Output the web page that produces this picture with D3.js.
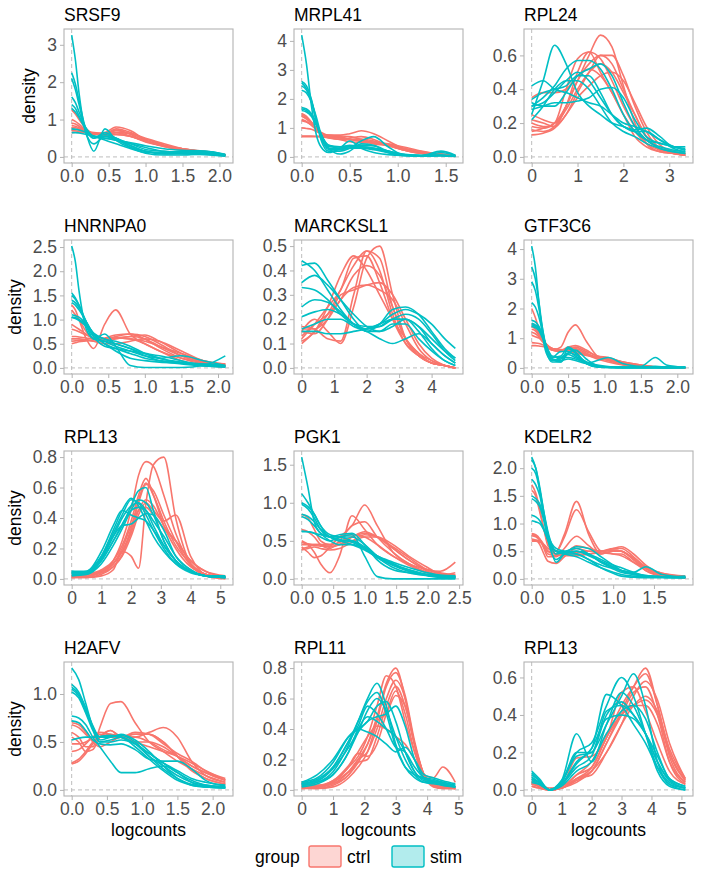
<!DOCTYPE html>
<html>
<head>
<meta charset="utf-8">
<script src="https://cdn.jsdelivr.net/npm/d3@7"></script>
<style>
  body { margin: 0; background: #fff; }
  text { font-family: "Liberation Sans", Arial, Helvetica, sans-serif; }
</style>
</head>
<body>
<svg id="chart" width="705" height="874"></svg>
<script>
// gene names, one panel each (row by row)
const genes = ["SRSF9", "MRPL41", "RPL24", "HNRNPA0", "MARCKSL1", "GTF3C6",
               "RPL13", "PGK1", "KDELR2", "H2AFV", "RPL11", "RPL13"];

// tick labels per panel
const xTicks = [
  [0, 0.5, 1, 1.5, 2], [0, 0.5, 1, 1.5], [0, 1, 2, 3],
  [0, 0.5, 1, 1.5, 2], [0, 1, 2, 3, 4], [0, 0.5, 1, 1.5, 2],
  [0, 1, 2, 3, 4, 5], [0, 0.5, 1, 1.5, 2, 2.5], [0, 0.5, 1, 1.5],
  [0, 0.5, 1, 1.5, 2], [0, 1, 2, 3, 4, 5], [0, 1, 2, 3, 4, 5]
];
const yTicks = [
  [0, 1, 2, 3], [0, 1, 2, 3, 4], [0, 0.2, 0.4, 0.6],
  [0, 0.5, 1, 1.5, 2, 2.5], [0, 0.1, 0.2, 0.3, 0.4, 0.5], [0, 1, 2, 3, 4],
  [0, 0.2, 0.4, 0.6, 0.8], [0, 0.5, 1, 1.5], [0, 0.5, 1, 1.5, 2],
  [0, 0.5, 1], [0, 0.2, 0.4, 0.6, 0.8], [0, 0.2, 0.4, 0.6]
];

// density curves: x grid per panel, one y row per sample
const xsSRSF9 = [0, 0.05, 0.1, 0.2, 0.3, 0.45, 0.6, 0.8, 1.0, 1.25, 1.5, 1.8, 2.08];
const ctrlSRSF9 = [
  [1.25, 1.15, 1.0, 0.75, 0.62, 0.6, 0.65, 0.55, 0.4, 0.3, 0.22, 0.12, 0.05],
  [1.0, 0.95, 0.88, 0.7, 0.6, 0.62, 0.72, 0.6, 0.42, 0.28, 0.18, 0.1, 0.04],
  [0.9, 0.88, 0.82, 0.7, 0.62, 0.65, 0.8, 0.7, 0.45, 0.28, 0.2, 0.12, 0.05],
  [0.85, 0.82, 0.78, 0.68, 0.6, 0.62, 0.75, 0.65, 0.45, 0.3, 0.22, 0.15, 0.06],
  [0.8, 0.78, 0.75, 0.68, 0.62, 0.6, 0.7, 0.62, 0.48, 0.32, 0.2, 0.1, 0.04],
  [0.75, 0.74, 0.72, 0.68, 0.65, 0.62, 0.6, 0.55, 0.42, 0.3, 0.22, 0.14, 0.06],
  [0.7, 0.7, 0.68, 0.66, 0.64, 0.6, 0.65, 0.62, 0.5, 0.35, 0.22, 0.1, 0.03],
  [0.65, 0.66, 0.66, 0.65, 0.62, 0.58, 0.6, 0.55, 0.42, 0.3, 0.2, 0.12, 0.05]
];
const stimSRSF9 = [
  [3.26, 2.6, 1.7, 0.6, 0.35, 0.55, 0.45, 0.3, 0.15, 0.1, 0.1, 0.08, 0.03],
  [2.25, 1.95, 1.5, 0.7, 0.5, 0.65, 0.5, 0.35, 0.2, 0.15, 0.12, 0.12, 0.05],
  [2.1, 1.8, 1.4, 0.6, 0.15, 0.75, 0.45, 0.25, 0.15, 0.1, 0.08, 0.06, 0.02],
  [1.6, 1.45, 1.2, 0.75, 0.55, 0.55, 0.5, 0.3, 0.15, 0.08, 0.1, 0.15, 0.06],
  [1.4, 1.3, 1.1, 0.75, 0.55, 0.5, 0.45, 0.35, 0.25, 0.15, 0.12, 0.1, 0.04],
  [1.3, 1.2, 1.05, 0.7, 0.5, 0.6, 0.5, 0.25, 0.1, 0.05, 0.05, 0.08, 0.03],
  [0.75, 0.74, 0.72, 0.65, 0.55, 0.5, 0.45, 0.38, 0.3, 0.22, 0.18, 0.16, 0.07],
  [0.65, 0.65, 0.64, 0.6, 0.55, 0.45, 0.35, 0.22, 0.12, 0.12, 0.15, 0.12, 0.05]
];

const xsMRPL41 = [0, 0.05, 0.1, 0.15, 0.2, 0.28, 0.4, 0.5, 0.62, 0.75, 0.9, 1.05, 1.25, 1.45, 1.6];
const ctrlMRPL41 = [
  [1.5, 1.4, 1.2, 1.0, 0.85, 0.75, 0.75, 0.8, 0.9, 0.8, 0.55, 0.3, 0.15, 0.08, 0.04],
  [1.45, 1.35, 1.2, 1.0, 0.8, 0.65, 0.6, 0.65, 0.7, 0.6, 0.4, 0.25, 0.12, 0.06, 0.03],
  [1.4, 1.3, 1.15, 0.95, 0.8, 0.7, 0.72, 0.7, 0.6, 0.5, 0.4, 0.3, 0.15, 0.05, 0.02],
  [1.3, 1.22, 1.1, 0.95, 0.8, 0.7, 0.68, 0.62, 0.55, 0.45, 0.38, 0.25, 0.12, 0.06, 0.03],
  [1.25, 1.2, 1.1, 0.95, 0.82, 0.75, 0.7, 0.6, 0.55, 0.5, 0.42, 0.3, 0.15, 0.08, 0.05],
  [1.0, 0.98, 0.95, 0.88, 0.8, 0.72, 0.65, 0.6, 0.62, 0.55, 0.4, 0.25, 0.12, 0.1, 0.05],
  [0.7, 0.7, 0.7, 0.7, 0.7, 0.68, 0.65, 0.6, 0.55, 0.5, 0.45, 0.35, 0.2, 0.08, 0.04],
  [0.72, 0.72, 0.72, 0.71, 0.7, 0.66, 0.6, 0.52, 0.5, 0.48, 0.4, 0.3, 0.18, 0.1, 0.05]
];
const stimMRPL41 = [
  [4.2, 3.2, 1.8, 0.8, 0.35, 0.15, 0.3, 0.55, 0.3, 0.15, 0.08, 0.05, 0.04, 0.05, 0.03],
  [2.6, 2.45, 2.0, 1.3, 0.6, 0.2, 0.2, 0.3, 0.55, 0.7, 0.35, 0.08, 0.04, 0.05, 0.03],
  [2.55, 2.35, 1.95, 1.25, 0.7, 0.3, 0.3, 0.35, 0.4, 0.38, 0.2, 0.06, 0.04, 0.15, 0.05],
  [2.45, 2.3, 1.9, 1.3, 0.7, 0.25, 0.25, 0.3, 0.35, 0.3, 0.15, 0.05, 0.04, 0.05, 0.02],
  [2.3, 2.2, 1.9, 1.4, 0.8, 0.35, 0.35, 0.4, 0.35, 0.3, 0.2, 0.1, 0.05, 0.2, 0.06],
  [1.7, 1.65, 1.5, 1.2, 0.8, 0.4, 0.35, 0.35, 0.3, 0.3, 0.2, 0.08, 0.05, 0.05, 0.03],
  [1.65, 1.6, 1.45, 1.15, 0.8, 0.3, 0.1, 0.2, 0.45, 0.4, 0.15, 0.05, 0.03, 0.04, 0.02],
  [1.6, 1.55, 1.4, 1.1, 0.75, 0.4, 0.3, 0.3, 0.3, 0.25, 0.15, 0.08, 0.05, 0.06, 0.03]
];

const xsRPL24 = [0, 0.25, 0.5, 0.75, 1.0, 1.25, 1.5, 1.75, 2.0, 2.25, 2.5, 2.8, 3.1, 3.35];
const ctrlRPL24 = [
  [0.15, 0.17, 0.2, 0.3, 0.45, 0.6, 0.72, 0.65, 0.42, 0.2, 0.08, 0.03, 0.02, 0.01],
  [0.22, 0.2, 0.18, 0.3, 0.5, 0.62, 0.58, 0.45, 0.3, 0.18, 0.1, 0.05, 0.03, 0.02],
  [0.18, 0.17, 0.2, 0.4, 0.58, 0.62, 0.5, 0.38, 0.25, 0.15, 0.08, 0.04, 0.02, 0.01],
  [0.13, 0.14, 0.17, 0.25, 0.38, 0.5, 0.6, 0.6, 0.48, 0.3, 0.15, 0.05, 0.02, 0.01],
  [0.25, 0.22, 0.2, 0.28, 0.4, 0.5, 0.55, 0.5, 0.38, 0.25, 0.12, 0.05, 0.03, 0.02],
  [0.2, 0.18, 0.18, 0.25, 0.35, 0.42, 0.48, 0.5, 0.45, 0.32, 0.18, 0.07, 0.03, 0.02],
  [0.35, 0.38, 0.38, 0.4, 0.48, 0.52, 0.48, 0.38, 0.25, 0.12, 0.06, 0.03, 0.02, 0.01],
  [0.16, 0.15, 0.18, 0.3, 0.45, 0.55, 0.6, 0.55, 0.4, 0.25, 0.12, 0.04, 0.02, 0.01]
];
const stimRPL24 = [
  [0.25, 0.45, 0.66, 0.55, 0.38, 0.3, 0.25, 0.2, 0.18, 0.15, 0.1, 0.05, 0.03, 0.02],
  [0.42, 0.45, 0.4, 0.38, 0.35, 0.32, 0.3, 0.25, 0.2, 0.18, 0.15, 0.1, 0.06, 0.04],
  [0.3, 0.35, 0.42, 0.52, 0.57, 0.57, 0.52, 0.4, 0.25, 0.15, 0.1, 0.08, 0.06, 0.05],
  [0.32, 0.3, 0.3, 0.38, 0.48, 0.52, 0.55, 0.48, 0.32, 0.18, 0.1, 0.06, 0.04, 0.03],
  [0.3, 0.32, 0.38, 0.45, 0.5, 0.45, 0.35, 0.25, 0.18, 0.15, 0.15, 0.1, 0.05, 0.03],
  [0.34, 0.38, 0.4, 0.42, 0.48, 0.48, 0.38, 0.25, 0.18, 0.16, 0.17, 0.12, 0.06, 0.06],
  [0.28, 0.3, 0.32, 0.32, 0.33, 0.35, 0.4, 0.41, 0.35, 0.22, 0.12, 0.08, 0.06, 0.04],
  [0.22, 0.3, 0.4, 0.45, 0.45, 0.4, 0.3, 0.2, 0.15, 0.12, 0.08, 0.05, 0.03, 0.02]
];

const xsHNRNPA0 = [0, 0.05, 0.1, 0.2, 0.3, 0.45, 0.6, 0.8, 1.0, 1.2, 1.5, 1.8, 2.1];
const ctrlHNRNPA0 = [
  [1.3, 1.2, 1.0, 0.6, 0.4, 0.9, 1.2, 0.7, 0.5, 0.35, 0.15, 0.05, 0.02],
  [1.2, 1.1, 1.0, 0.75, 0.6, 0.55, 0.6, 0.65, 0.6, 0.45, 0.25, 0.1, 0.05],
  [0.9, 0.85, 0.8, 0.7, 0.62, 0.6, 0.65, 0.7, 0.65, 0.5, 0.25, 0.1, 0.05],
  [0.8, 0.78, 0.75, 0.68, 0.62, 0.6, 0.62, 0.6, 0.55, 0.45, 0.3, 0.15, 0.08],
  [0.65, 0.65, 0.64, 0.62, 0.6, 0.62, 0.68, 0.7, 0.6, 0.42, 0.2, 0.08, 0.04],
  [0.6, 0.6, 0.6, 0.58, 0.55, 0.58, 0.62, 0.65, 0.68, 0.55, 0.3, 0.12, 0.05],
  [0.55, 0.56, 0.57, 0.58, 0.55, 0.5, 0.5, 0.55, 0.6, 0.55, 0.35, 0.15, 0.08],
  [0.5, 0.52, 0.54, 0.56, 0.58, 0.6, 0.62, 0.6, 0.5, 0.35, 0.2, 0.12, 0.07]
];
const stimHNRNPA0 = [
  [2.52, 2.2, 1.6, 0.8, 0.6, 0.55, 0.5, 0.4, 0.25, 0.15, 0.08, 0.04, 0.02],
  [1.55, 1.45, 1.3, 0.9, 0.65, 0.55, 0.45, 0.35, 0.25, 0.2, 0.25, 0.15, 0.05],
  [1.5, 1.42, 1.3, 0.95, 0.7, 0.5, 0.35, 0.2, 0.15, 0.12, 0.1, 0.08, 0.05],
  [1.35, 1.3, 1.2, 0.95, 0.7, 0.5, 0.4, 0.3, 0.2, 0.15, 0.1, 0.05, 0.03],
  [1.1, 1.08, 1.05, 0.9, 0.7, 0.6, 0.5, 0.4, 0.3, 0.2, 0.1, 0.06, 0.03],
  [1.05, 1.04, 1.0, 0.9, 0.72, 0.6, 0.55, 0.45, 0.3, 0.2, 0.12, 0.08, 0.04],
  [1.05, 1.02, 0.98, 0.85, 0.6, 0.7, 0.45, 0.05, 0.01, 0.01, 0.01, 0.05, 0.25],
  [1.4, 1.35, 1.25, 0.95, 0.65, 0.45, 0.4, 0.35, 0.3, 0.25, 0.15, 0.05, 0.02]
];

const xsMARCKSL1 = [0, 0.4, 0.8, 1.2, 1.6, 2.0, 2.4, 2.8, 3.2, 3.6, 4.0, 4.4, 4.73];
const ctrlMARCKSL1 = [
  [0.1, 0.15, 0.22, 0.32, 0.42, 0.48, 0.4, 0.22, 0.1, 0.05, 0.02, 0.01, 0.0],
  [0.12, 0.18, 0.25, 0.32, 0.45, 0.46, 0.35, 0.2, 0.1, 0.05, 0.02, 0.01, 0.0],
  [0.17, 0.16, 0.12, 0.11, 0.3, 0.48, 0.45, 0.25, 0.12, 0.06, 0.02, 0.01, 0.0],
  [0.15, 0.2, 0.15, 0.1, 0.25, 0.45, 0.5, 0.3, 0.12, 0.05, 0.02, 0.01, 0.0],
  [0.13, 0.18, 0.22, 0.28, 0.38, 0.42, 0.38, 0.25, 0.12, 0.05, 0.02, 0.01, 0.0],
  [0.15, 0.14, 0.2, 0.3, 0.32, 0.34, 0.35, 0.3, 0.2, 0.1, 0.04, 0.01, 0.0],
  [0.16, 0.16, 0.2, 0.28, 0.33, 0.34, 0.32, 0.28, 0.18, 0.08, 0.03, 0.01, 0.0],
  [0.11, 0.15, 0.25, 0.38, 0.46, 0.4, 0.3, 0.2, 0.12, 0.06, 0.03, 0.01, 0.0]
];
const stimMARCKSL1 = [
  [0.44, 0.4, 0.32, 0.24, 0.18, 0.16, 0.17, 0.2, 0.2, 0.15, 0.08, 0.03, 0.01],
  [0.42, 0.43, 0.36, 0.28, 0.2, 0.15, 0.15, 0.18, 0.18, 0.12, 0.07, 0.03, 0.01],
  [0.35, 0.38, 0.34, 0.28, 0.22, 0.17, 0.15, 0.17, 0.2, 0.17, 0.1, 0.05, 0.02],
  [0.33, 0.32, 0.28, 0.22, 0.18, 0.17, 0.17, 0.2, 0.22, 0.2, 0.14, 0.07, 0.03],
  [0.25, 0.28, 0.27, 0.23, 0.18, 0.15, 0.18, 0.24, 0.25, 0.22, 0.15, 0.08, 0.04],
  [0.21, 0.23, 0.24, 0.22, 0.18, 0.16, 0.18, 0.22, 0.24, 0.22, 0.18, 0.12, 0.08],
  [0.16, 0.18, 0.2, 0.2, 0.17, 0.15, 0.12, 0.1, 0.12, 0.14, 0.1, 0.05, 0.02],
  [0.15, 0.15, 0.14, 0.14, 0.15, 0.16, 0.18, 0.2, 0.2, 0.17, 0.12, 0.07, 0.04]
];

const xsGTF3C6 = [0, 0.05, 0.1, 0.15, 0.2, 0.28, 0.4, 0.5, 0.6, 0.75, 0.9, 1.05, 1.25, 1.5, 1.7, 1.85, 2.11];
const ctrlGTF3C6 = [
  [2.0, 1.7, 1.3, 0.95, 0.75, 0.6, 0.7, 1.2, 1.45, 0.9, 0.4, 0.25, 0.12, 0.05, 0.02, 0.01, 0.0],
  [1.5, 1.4, 1.2, 1.0, 0.8, 0.6, 0.55, 0.65, 0.7, 0.55, 0.4, 0.3, 0.15, 0.05, 0.02, 0.01, 0.0],
  [1.4, 1.3, 1.15, 0.95, 0.8, 0.65, 0.6, 0.7, 0.75, 0.6, 0.4, 0.35, 0.2, 0.08, 0.03, 0.01, 0.0],
  [1.3, 1.25, 1.1, 0.95, 0.8, 0.65, 0.6, 0.6, 0.65, 0.5, 0.35, 0.3, 0.2, 0.1, 0.03, 0.01, 0.0],
  [1.2, 1.15, 1.05, 0.9, 0.75, 0.6, 0.55, 0.6, 0.6, 0.45, 0.35, 0.25, 0.15, 0.05, 0.02, 0.01, 0.0],
  [1.1, 1.05, 1.0, 0.88, 0.75, 0.62, 0.6, 0.62, 0.58, 0.45, 0.3, 0.2, 0.1, 0.04, 0.02, 0.01, 0.0],
  [0.85, 0.84, 0.82, 0.78, 0.72, 0.65, 0.62, 0.6, 0.55, 0.45, 0.35, 0.28, 0.18, 0.08, 0.03, 0.01, 0.0],
  [0.75, 0.75, 0.74, 0.72, 0.7, 0.65, 0.6, 0.55, 0.5, 0.42, 0.35, 0.3, 0.2, 0.1, 0.04, 0.01, 0.0]
];
const stimGTF3C6 = [
  [4.1, 3.4, 2.2, 1.1, 0.5, 0.25, 0.3, 0.45, 0.35, 0.15, 0.05, 0.02, 0.01, 0.01, 0.01, 0.01, 0.02],
  [3.4, 3.0, 2.2, 1.3, 0.6, 0.2, 0.2, 0.5, 0.6, 0.3, 0.08, 0.03, 0.02, 0.05, 0.35, 0.1, 0.02],
  [2.9, 2.6, 2.0, 1.3, 0.7, 0.3, 0.25, 0.3, 0.25, 0.15, 0.25, 0.35, 0.15, 0.05, 0.03, 0.02, 0.02],
  [2.2, 2.05, 1.7, 1.2, 0.7, 0.35, 0.4, 0.7, 0.55, 0.15, 0.03, 0.01, 0.01, 0.01, 0.01, 0.01, 0.02],
  [1.6, 1.55, 1.4, 1.1, 0.75, 0.35, 0.55, 0.55, 0.4, 0.2, 0.1, 0.05, 0.03, 0.02, 0.02, 0.01, 0.01],
  [1.5, 1.45, 1.35, 1.1, 0.7, 0.25, 0.35, 0.5, 0.45, 0.2, 0.05, 0.02, 0.01, 0.01, 0.01, 0.01, 0.01],
  [1.45, 1.4, 1.3, 1.05, 0.75, 0.4, 0.35, 0.35, 0.3, 0.15, 0.05, 0.02, 0.02, 0.03, 0.05, 0.03, 0.02],
  [1.4, 1.35, 1.25, 1.0, 0.7, 0.3, 0.2, 0.65, 0.5, 0.15, 0.03, 0.02, 0.01, 0.01, 0.01, 0.01, 0.01]
];

const xsRPL13a = [0, 0.5, 1.0, 1.4, 1.7, 2.0, 2.25, 2.5, 2.75, 3.1, 3.5, 4.0, 4.5, 5.17];
const ctrlRPL13a = [
  [0.01, 0.01, 0.02, 0.06, 0.18, 0.15, 0.07, 0.5, 0.75, 0.8, 0.4, 0.1, 0.02, 0.0],
  [0.02, 0.02, 0.05, 0.12, 0.25, 0.45, 0.68, 0.77, 0.74, 0.55, 0.3, 0.1, 0.03, 0.01],
  [0.02, 0.03, 0.06, 0.12, 0.22, 0.38, 0.55, 0.66, 0.55, 0.35, 0.2, 0.08, 0.03, 0.01],
  [0.01, 0.02, 0.05, 0.1, 0.18, 0.33, 0.52, 0.63, 0.55, 0.38, 0.22, 0.1, 0.03, 0.01],
  [0.02, 0.02, 0.04, 0.08, 0.15, 0.28, 0.42, 0.5, 0.45, 0.38, 0.42, 0.15, 0.03, 0.01],
  [0.03, 0.03, 0.05, 0.1, 0.18, 0.3, 0.45, 0.52, 0.48, 0.35, 0.25, 0.12, 0.05, 0.02],
  [0.01, 0.01, 0.03, 0.08, 0.16, 0.32, 0.5, 0.62, 0.58, 0.42, 0.25, 0.09, 0.03, 0.01],
  [0.02, 0.02, 0.04, 0.1, 0.2, 0.35, 0.45, 0.47, 0.42, 0.33, 0.25, 0.12, 0.05, 0.01]
];
const stimRPL13a = [
  [0.03, 0.03, 0.12, 0.25, 0.35, 0.48, 0.58, 0.6, 0.45, 0.25, 0.12, 0.05, 0.02, 0.01],
  [0.05, 0.04, 0.15, 0.32, 0.45, 0.53, 0.48, 0.38, 0.28, 0.18, 0.1, 0.05, 0.02, 0.01],
  [0.04, 0.05, 0.15, 0.3, 0.42, 0.52, 0.5, 0.42, 0.32, 0.2, 0.1, 0.04, 0.02, 0.01],
  [0.04, 0.04, 0.13, 0.28, 0.4, 0.48, 0.5, 0.45, 0.35, 0.22, 0.12, 0.05, 0.02, 0.01],
  [0.05, 0.05, 0.18, 0.35, 0.45, 0.42, 0.4, 0.38, 0.32, 0.22, 0.12, 0.05, 0.02, 0.01],
  [0.03, 0.04, 0.14, 0.28, 0.35, 0.36, 0.4, 0.43, 0.42, 0.32, 0.15, 0.06, 0.02, 0.01],
  [0.02, 0.03, 0.1, 0.22, 0.33, 0.45, 0.52, 0.5, 0.42, 0.25, 0.12, 0.05, 0.02, 0.01],
  [0.04, 0.04, 0.12, 0.25, 0.36, 0.45, 0.47, 0.45, 0.38, 0.28, 0.15, 0.06, 0.02, 0.02]
];

const xsPGK1 = [0, 0.1, 0.2, 0.3, 0.45, 0.6, 0.8, 1.0, 1.2, 1.45, 1.7, 2.0, 2.2, 2.44];
const ctrlPGK1 = [
  [0.85, 0.8, 0.65, 0.5, 0.45, 0.55, 0.7, 0.97, 0.7, 0.35, 0.2, 0.08, 0.03, 0.02],
  [0.5, 0.45, 0.35, 0.2, 0.08, 0.3, 0.83, 0.65, 0.45, 0.3, 0.2, 0.12, 0.08, 0.05],
  [0.65, 0.62, 0.55, 0.45, 0.4, 0.5, 0.7, 0.75, 0.55, 0.35, 0.2, 0.08, 0.04, 0.02],
  [0.48, 0.46, 0.45, 0.45, 0.45, 0.48, 0.55, 0.6, 0.55, 0.4, 0.25, 0.12, 0.1, 0.22],
  [0.45, 0.45, 0.44, 0.43, 0.43, 0.45, 0.5, 0.58, 0.55, 0.42, 0.28, 0.12, 0.07, 0.05],
  [0.42, 0.35, 0.28, 0.3, 0.42, 0.55, 0.58, 0.55, 0.45, 0.3, 0.18, 0.08, 0.05, 0.08],
  [0.4, 0.42, 0.45, 0.45, 0.42, 0.45, 0.55, 0.62, 0.55, 0.4, 0.25, 0.1, 0.05, 0.03],
  [0.38, 0.4, 0.42, 0.4, 0.38, 0.4, 0.48, 0.55, 0.55, 0.45, 0.3, 0.15, 0.06, 0.03]
];
const stimPGK1 = [
  [1.6, 1.2, 0.75, 0.6, 0.55, 0.5, 0.45, 0.38, 0.28, 0.15, 0.08, 0.04, 0.02, 0.01],
  [1.12, 1.0, 0.85, 0.7, 0.55, 0.55, 0.55, 0.45, 0.3, 0.18, 0.1, 0.05, 0.03, 0.02],
  [1.0, 0.95, 0.85, 0.7, 0.58, 0.55, 0.5, 0.4, 0.28, 0.18, 0.12, 0.06, 0.04, 0.03],
  [0.98, 0.92, 0.8, 0.65, 0.55, 0.58, 0.6, 0.45, 0.25, 0.12, 0.08, 0.05, 0.03, 0.02],
  [0.85, 0.82, 0.75, 0.65, 0.55, 0.5, 0.5, 0.42, 0.3, 0.2, 0.1, 0.05, 0.04, 0.03],
  [0.82, 0.78, 0.7, 0.6, 0.5, 0.45, 0.45, 0.4, 0.3, 0.22, 0.15, 0.08, 0.05, 0.04],
  [0.63, 0.62, 0.6, 0.55, 0.5, 0.55, 0.58, 0.3, 0.03, 0.0, 0.0, 0.0, 0.0, 0.0],
  [0.62, 0.62, 0.6, 0.58, 0.55, 0.52, 0.48, 0.4, 0.3, 0.2, 0.12, 0.05, 0.03, 0.02]
];

const xsKDELR2 = [0, 0.05, 0.1, 0.15, 0.2, 0.3, 0.4, 0.55, 0.7, 0.85, 1.0, 1.1, 1.25, 1.4, 1.6, 1.885];
const ctrlKDELR2 = [
  [1.7, 1.55, 1.25, 0.9, 0.6, 0.5, 0.8, 1.4, 0.8, 0.45, 0.5, 0.5, 0.35, 0.2, 0.08, 0.02],
  [1.6, 1.5, 1.2, 0.9, 0.65, 0.5, 0.75, 1.25, 0.85, 0.5, 0.45, 0.45, 0.3, 0.15, 0.06, 0.02],
  [0.82, 0.8, 0.72, 0.55, 0.4, 0.4, 0.55, 0.77, 0.6, 0.45, 0.5, 0.5, 0.35, 0.15, 0.05, 0.02],
  [0.78, 0.76, 0.7, 0.58, 0.45, 0.42, 0.45, 0.6, 0.55, 0.5, 0.55, 0.55, 0.4, 0.2, 0.06, 0.02],
  [0.72, 0.7, 0.62, 0.45, 0.32, 0.28, 0.4, 0.55, 0.5, 0.5, 0.52, 0.5, 0.35, 0.18, 0.06, 0.02],
  [0.7, 0.7, 0.68, 0.6, 0.5, 0.45, 0.45, 0.45, 0.45, 0.48, 0.55, 0.58, 0.45, 0.25, 0.08, 0.03],
  [0.68, 0.68, 0.66, 0.62, 0.55, 0.45, 0.42, 0.42, 0.45, 0.5, 0.52, 0.5, 0.38, 0.22, 0.1, 0.04],
  [0.8, 0.78, 0.72, 0.62, 0.5, 0.45, 0.45, 0.48, 0.5, 0.5, 0.45, 0.42, 0.3, 0.2, 0.1, 0.05]
];
const stimKDELR2 = [
  [2.2, 2.0, 1.6, 1.1, 0.7, 0.35, 0.45, 0.5, 0.45, 0.3, 0.2, 0.15, 0.1, 0.05, 0.03, 0.02],
  [2.15, 2.0, 1.65, 1.2, 0.8, 0.45, 0.48, 0.5, 0.42, 0.32, 0.22, 0.15, 0.1, 0.06, 0.04, 0.03],
  [2.0, 1.9, 1.6, 1.2, 0.85, 0.5, 0.5, 0.55, 0.45, 0.3, 0.2, 0.15, 0.12, 0.22, 0.08, 0.03],
  [1.8, 1.7, 1.5, 1.15, 0.8, 0.5, 0.48, 0.5, 0.45, 0.35, 0.25, 0.2, 0.12, 0.06, 0.04, 0.03],
  [1.5, 1.45, 1.35, 1.1, 0.8, 0.55, 0.5, 0.45, 0.35, 0.25, 0.18, 0.12, 0.08, 0.05, 0.04, 0.03],
  [1.45, 1.4, 1.3, 1.05, 0.75, 0.3, 0.45, 0.58, 0.55, 0.4, 0.25, 0.15, 0.08, 0.05, 0.03, 0.02],
  [1.15, 1.12, 1.05, 0.9, 0.7, 0.5, 0.45, 0.45, 0.35, 0.2, 0.1, 0.05, 0.03, 0.02, 0.02, 0.02],
  [1.05, 1.03, 1.0, 0.88, 0.7, 0.5, 0.45, 0.4, 0.3, 0.2, 0.12, 0.08, 0.05, 0.04, 0.03, 0.05]
];

const xsH2AFV = [0, 0.1, 0.2, 0.3, 0.4, 0.55, 0.7, 0.9, 1.1, 1.3, 1.5, 1.7, 1.9, 2.18];
const ctrlH2AFV = [
  [0.6, 0.55, 0.45, 0.45, 0.65, 0.9, 0.92, 0.7, 0.5, 0.4, 0.3, 0.22, 0.15, 0.08],
  [0.7, 0.68, 0.6, 0.5, 0.45, 0.5, 0.55, 0.55, 0.6, 0.65, 0.55, 0.3, 0.15, 0.08],
  [0.68, 0.65, 0.58, 0.52, 0.55, 0.62, 0.55, 0.5, 0.5, 0.45, 0.35, 0.25, 0.18, 0.1],
  [0.55, 0.5, 0.4, 0.42, 0.55, 0.62, 0.55, 0.58, 0.58, 0.5, 0.35, 0.2, 0.12, 0.06],
  [0.48, 0.48, 0.5, 0.55, 0.6, 0.58, 0.55, 0.55, 0.5, 0.42, 0.35, 0.25, 0.18, 0.1],
  [0.4, 0.42, 0.48, 0.55, 0.58, 0.55, 0.55, 0.58, 0.58, 0.5, 0.35, 0.22, 0.12, 0.06],
  [0.28, 0.32, 0.4, 0.5, 0.55, 0.55, 0.55, 0.6, 0.58, 0.48, 0.38, 0.3, 0.2, 0.12],
  [0.27, 0.3, 0.38, 0.48, 0.55, 0.58, 0.56, 0.5, 0.45, 0.4, 0.35, 0.28, 0.2, 0.1]
];
const stimH2AFV = [
  [1.27, 1.15, 0.9, 0.65, 0.5, 0.52, 0.55, 0.45, 0.32, 0.2, 0.1, 0.05, 0.03, 0.02],
  [1.1, 1.02, 0.85, 0.65, 0.52, 0.55, 0.57, 0.5, 0.35, 0.22, 0.12, 0.05, 0.03, 0.02],
  [1.07, 1.0, 0.85, 0.67, 0.55, 0.55, 0.58, 0.52, 0.4, 0.25, 0.12, 0.06, 0.04, 0.03],
  [1.05, 0.98, 0.82, 0.65, 0.55, 0.56, 0.55, 0.48, 0.35, 0.25, 0.15, 0.08, 0.05, 0.03],
  [1.02, 0.96, 0.8, 0.62, 0.5, 0.5, 0.52, 0.48, 0.38, 0.28, 0.18, 0.1, 0.05, 0.03],
  [0.77, 0.75, 0.68, 0.55, 0.45, 0.3, 0.18, 0.18, 0.22, 0.25, 0.18, 0.08, 0.03, 0.02],
  [0.72, 0.7, 0.62, 0.52, 0.48, 0.47, 0.48, 0.42, 0.32, 0.3, 0.3, 0.22, 0.1, 0.04],
  [0.52, 0.54, 0.55, 0.55, 0.56, 0.57, 0.55, 0.48, 0.38, 0.28, 0.2, 0.12, 0.08, 0.05]
];

const xsRPL11 = [0, 0.5, 1.0, 1.5, 1.8, 2.1, 2.4, 2.7, 3.0, 3.3, 3.6, 3.9, 4.2, 4.5, 4.9];
const ctrlRPL11 = [
  [0.02, 0.01, 0.03, 0.1, 0.18, 0.3, 0.48, 0.7, 0.8, 0.6, 0.3, 0.1, 0.03, 0.02, 0.01],
  [0.01, 0.01, 0.02, 0.08, 0.15, 0.25, 0.45, 0.68, 0.77, 0.62, 0.32, 0.1, 0.02, 0.01, 0.01],
  [0.05, 0.03, 0.05, 0.15, 0.22, 0.35, 0.55, 0.75, 0.68, 0.45, 0.25, 0.1, 0.05, 0.03, 0.02],
  [0.02, 0.02, 0.04, 0.12, 0.2, 0.25, 0.4, 0.6, 0.72, 0.6, 0.3, 0.08, 0.03, 0.02, 0.01],
  [0.03, 0.02, 0.05, 0.12, 0.18, 0.2, 0.35, 0.55, 0.68, 0.55, 0.3, 0.1, 0.04, 0.02, 0.01],
  [0.02, 0.02, 0.04, 0.1, 0.2, 0.3, 0.45, 0.5, 0.62, 0.55, 0.3, 0.1, 0.03, 0.01, 0.01],
  [0.01, 0.02, 0.06, 0.15, 0.25, 0.35, 0.42, 0.4, 0.35, 0.3, 0.2, 0.1, 0.08, 0.15, 0.05],
  [0.03, 0.03, 0.06, 0.16, 0.24, 0.22, 0.3, 0.5, 0.65, 0.5, 0.25, 0.08, 0.03, 0.02, 0.01]
];
const stimRPL11 = [
  [0.03, 0.05, 0.12, 0.3, 0.45, 0.6, 0.7, 0.55, 0.3, 0.15, 0.08, 0.05, 0.05, 0.04, 0.02],
  [0.04, 0.06, 0.15, 0.32, 0.45, 0.58, 0.64, 0.5, 0.28, 0.15, 0.1, 0.08, 0.07, 0.05, 0.03],
  [0.05, 0.08, 0.18, 0.35, 0.4, 0.45, 0.55, 0.58, 0.45, 0.25, 0.12, 0.07, 0.06, 0.04, 0.02],
  [0.03, 0.05, 0.1, 0.25, 0.38, 0.52, 0.6, 0.52, 0.35, 0.2, 0.1, 0.05, 0.04, 0.03, 0.02],
  [0.04, 0.07, 0.15, 0.32, 0.42, 0.55, 0.5, 0.4, 0.28, 0.25, 0.15, 0.08, 0.06, 0.05, 0.03],
  [0.04, 0.06, 0.14, 0.28, 0.38, 0.45, 0.48, 0.5, 0.55, 0.42, 0.2, 0.08, 0.05, 0.03, 0.02],
  [0.05, 0.1, 0.2, 0.35, 0.4, 0.38, 0.35, 0.3, 0.25, 0.28, 0.2, 0.1, 0.08, 0.06, 0.04],
  [0.02, 0.04, 0.1, 0.25, 0.4, 0.48, 0.45, 0.4, 0.35, 0.25, 0.12, 0.06, 0.05, 0.04, 0.02]
];

const xsRPL13b = [0, 0.25, 0.6, 1.0, 1.5, 2.0, 2.5, 3.0, 3.4, 3.8, 4.2, 4.6, 5.13];
const ctrlRPL13b = [
  [0.04, 0.02, 0.0, 0.01, 0.05, 0.1, 0.25, 0.42, 0.55, 0.65, 0.45, 0.18, 0.04],
  [0.03, 0.02, 0.0, 0.01, 0.06, 0.12, 0.28, 0.45, 0.55, 0.62, 0.45, 0.2, 0.05],
  [0.02, 0.01, 0.0, 0.01, 0.04, 0.1, 0.2, 0.35, 0.5, 0.58, 0.48, 0.25, 0.06],
  [0.05, 0.03, 0.0, 0.02, 0.17, 0.18, 0.28, 0.52, 0.55, 0.42, 0.25, 0.1, 0.03],
  [0.03, 0.02, 0.0, 0.01, 0.08, 0.12, 0.28, 0.4, 0.45, 0.48, 0.4, 0.2, 0.05],
  [0.02, 0.01, 0.0, 0.01, 0.06, 0.08, 0.2, 0.35, 0.45, 0.5, 0.42, 0.22, 0.06],
  [0.06, 0.03, 0.01, 0.02, 0.08, 0.15, 0.3, 0.4, 0.45, 0.45, 0.35, 0.15, 0.04],
  [0.04, 0.02, 0.0, 0.01, 0.06, 0.1, 0.25, 0.4, 0.52, 0.55, 0.4, 0.15, 0.03]
];
const stimRPL13b = [
  [0.1, 0.06, 0.0, 0.05, 0.3, 0.15, 0.35, 0.52, 0.45, 0.3, 0.12, 0.03, 0.01],
  [0.08, 0.05, 0.0, 0.05, 0.2, 0.25, 0.45, 0.6, 0.5, 0.3, 0.1, 0.02, 0.0],
  [0.06, 0.04, 0.0, 0.04, 0.18, 0.2, 0.35, 0.5, 0.62, 0.45, 0.15, 0.03, 0.0],
  [0.07, 0.04, 0.0, 0.03, 0.15, 0.22, 0.51, 0.45, 0.35, 0.25, 0.12, 0.04, 0.01],
  [0.05, 0.03, 0.0, 0.03, 0.12, 0.18, 0.4, 0.47, 0.4, 0.3, 0.15, 0.05, 0.01],
  [0.09, 0.05, 0.0, 0.04, 0.2, 0.2, 0.42, 0.45, 0.4, 0.3, 0.15, 0.05, 0.01],
  [0.04, 0.03, 0.0, 0.02, 0.1, 0.15, 0.3, 0.42, 0.45, 0.38, 0.2, 0.06, 0.02],
  [0.06, 0.04, 0.0, 0.03, 0.14, 0.22, 0.38, 0.4, 0.38, 0.3, 0.18, 0.06, 0.02]
];

const xsAll = [xsSRSF9, xsMRPL41, xsRPL24, xsHNRNPA0, xsMARCKSL1, xsGTF3C6,
               xsRPL13a, xsPGK1, xsKDELR2, xsH2AFV, xsRPL11, xsRPL13b];
const ctrlAll = [ctrlSRSF9, ctrlMRPL41, ctrlRPL24, ctrlHNRNPA0, ctrlMARCKSL1, ctrlGTF3C6,
                 ctrlRPL13a, ctrlPGK1, ctrlKDELR2, ctrlH2AFV, ctrlRPL11, ctrlRPL13b];
const stimAll = [stimSRSF9, stimMRPL41, stimRPL24, stimHNRNPA0, stimMARCKSL1, stimGTF3C6,
                 stimRPL13a, stimPGK1, stimKDELR2, stimH2AFV, stimRPL11, stimRPL13b];

const groups = ["ctrl", "stim"];
const color = d3.scaleOrdinal().domain(groups).range(["#F8766D", "#00BFC4"]);

// layout
const panelW = 169, panelH = 134;
const colLeft = [64, 294, 524];
const rowTop = [29, 240, 451, 662];
const fontTick = 17.5, fontTitle = 17.5;

const svg = d3.select("#chart");

genes.forEach((gene, i) => {
  const c = i % 3, r = Math.floor(i / 3);
  const xs = xsAll[i];
  const series = [
    ...ctrlAll[i].map(v => ({ group: "ctrl", v })),
    ...stimAll[i].map(v => ({ group: "stim", v }))
  ];
  const xMax = d3.max(xs);
  const yMax = d3.max(series, s => d3.max(s.v));

  const x = d3.scaleLinear().domain([-0.05 * xMax, 1.05 * xMax]).range([0, panelW]);
  const y = d3.scaleLinear().domain([-0.05 * yMax, 1.05 * yMax]).range([panelH, 0]);

  const g = svg.append("g").attr("transform", `translate(${colLeft[c]},${rowTop[r]})`);

  // reference lines at 0
  g.append("line")
    .attr("x1", x(0)).attr("x2", x(0)).attr("y1", 0).attr("y2", panelH)
    .attr("stroke", "#BDBDBD").attr("stroke-width", 1).attr("stroke-dasharray", "4,3");
  g.append("line")
    .attr("x1", 0).attr("x2", panelW).attr("y1", y(0)).attr("y2", y(0))
    .attr("stroke", "#BDBDBD").attr("stroke-width", 1).attr("stroke-dasharray", "4,3");

  const line = d3.line()
    .x((d, k) => x(xs[k]))
    .y(d => y(d))
    .curve(d3.curveMonotoneX);

  g.selectAll("path.dens")
    .data(series)
    .enter()
    .append("path")
    .attr("class", "dens")
    .attr("d", d => line(d.v))
    .attr("fill", "none")
    .attr("stroke", d => color(d.group))
    .attr("stroke-width", 1.6);

  // panel border
  g.append("rect")
    .attr("width", panelW).attr("height", panelH)
    .attr("fill", "none").attr("stroke", "#B3B3B3").attr("stroke-width", 1.1);

  const fmt = t => t.some(v => !Number.isInteger(v)) ? d3.format(".1f") : d3.format("d");

  const xa = g.append("g")
    .attr("transform", `translate(0,${panelH})`)
    .call(d3.axisBottom(x).tickValues(xTicks[i]).tickFormat(fmt(xTicks[i]))
      .tickSize(4).tickPadding(3));
  const ya = g.append("g")
    .call(d3.axisLeft(y).tickValues(yTicks[i]).tickFormat(fmt(yTicks[i]))
      .tickSize(4).tickPadding(3));

  [xa, ya].forEach(a => {
    a.select(".domain").remove();
    a.selectAll(".tick line").attr("stroke", "#B3B3B3");
    a.selectAll(".tick text")
      .attr("fill", "#4D4D4D")
      .style("font-size", fontTick + "px")
      .style("font-family", '"Liberation Sans", Arial, sans-serif');
  });

  // title
  g.append("text")
    .attr("x", 0).attr("y", -8.5)
    .attr("fill", "#000")
    .style("font-size", "17.5px")
    .text(gene);

  if (c === 0) {
    // axis title sits just left of this panel's own tick labels
    let labelLeft = 0;
    ya.selectAll(".tick text").each(function () {
      labelLeft = Math.min(labelLeft, this.getBBox().x);
    });
    g.append("text")
      .attr("transform", `translate(${labelLeft - 12},${panelH / 2}) rotate(-90)`)
      .attr("text-anchor", "middle")
      .attr("fill", "#000")
      .style("font-size", fontTitle + "px")
      .text("density");
  }
  if (r === 3) {
    g.append("text")
      .attr("x", panelW / 2).attr("y", 835.5 - rowTop[3])
      .attr("text-anchor", "middle")
      .attr("fill", "#000")
      .style("font-size", fontTitle + "px")
      .text("logcounts");
  }
});

// legend
const legend = svg.append("g").attr("transform", "translate(255,845)");
legend.append("text").attr("x", 0).attr("y", 18).style("font-size", "17.5px").text("group");
const keyX = [54, 137];
groups.forEach((grp, k) => {
  legend.append("rect")
    .attr("x", keyX[k]).attr("y", 1).attr("width", 32).attr("height", 21).attr("rx", 2)
    .attr("fill", color(grp)).attr("fill-opacity", 0.3)
    .attr("stroke", color(grp)).attr("stroke-width", 1.4);
  legend.append("text")
    .attr("x", keyX[k] + 38).attr("y", 18)
    .style("font-size", "17.5px")
    .text(grp);
});
</script>
</body>
</html>
